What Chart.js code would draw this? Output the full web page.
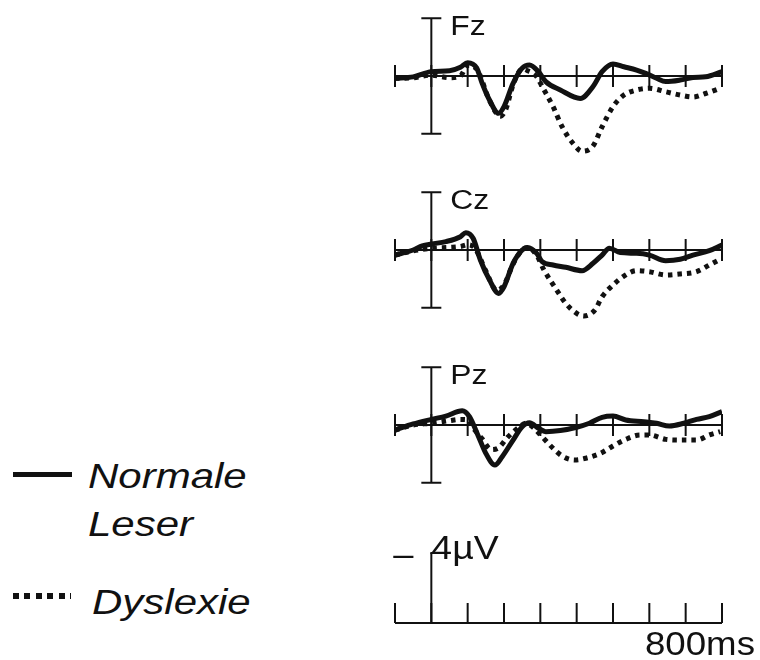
<!DOCTYPE html>
<html lang="de">
<head>
  <meta charset="UTF-8">
  <title>EKP Fz Cz Pz</title>
  <script src="https://cdn.jsdelivr.net/npm/chart.js"></script>
  <style>
    html, body { margin: 0; padding: 0; background: #fff; }
    .pantalla { position: relative; width: 760px; height: 660px; overflow: hidden; }
    canvas.erp { position: absolute; left: 385px; }
    .leg { position: absolute; font: italic 35px "Liberation Sans", Arial, sans-serif; color: #111;
           line-height: 1; transform-origin: 0 0; transform: scaleX(1.2); white-space: nowrap; }
    .legLine { position: absolute; left: 13px; top: 472px; width: 59px; height: 5px; background: #111; }
    .legDots { position: absolute; left: 13px; top: 593px; width: 58px; height: 6px;
               background: repeating-linear-gradient(90deg, #111 0 6px, transparent 6px 11.5px); }
  </style>
</head>
<body>
  <div class="pantalla">
    <canvas id="fz" class="erp" width="375" height="175" style="top:6px"></canvas>
    <canvas id="cz" class="erp" width="375" height="175" style="top:180px"></canvas>
    <canvas id="pz" class="erp" width="375" height="175" style="top:355px"></canvas>
    <canvas id="skala" class="erp" width="375" height="140" style="top:518px"></canvas>

    <div class="legLine"></div>
    <div class="leg" style="left:88px; top:458px">Normale</div>
    <div class="leg" style="left:88px; top:506px">Leser</div>
    <div class="legDots"></div>
    <div class="leg" style="left:92px; top:584px">Dyslexie</div>
  </div>
  <script>
    // Zeitachse (ms) und Skala
    const tickTimes = [-100, 0, 100, 200, 300, 400, 500, 600, 700, 800];
    const axisUV = 3.3;      // Länge der Elektrodenachse (µV)
    const scaleBarUV = 4;    // Kalibrierung 4µV

    // Fz
    const fzNormT = [-100,-50,0,50,80,100,125,140,160,185,200,225,250,270,295,315,355,410,445,470,500,530,565,590,620,645,685,720,755,800];
    const fzNormV = [0.13,0.05,-0.25,-0.3,-0.5,-0.76,-0.45,0.42,1.37,2.13,1.75,0.42,-0.45,-0.63,-0.25,0.32,0.8,1.28,0.6,-0.25,-0.69,-0.53,-0.34,-0.15,0.13,0.32,0.23,0.08,0.04,-0.25];
    const fzDysT = [-100,-50,0,50,80,100,125,160,190,205,225,250,265,290,305,335,360,390,415,445,470,500,530,565,600,645,685,720,755,795];
    const fzDysV = [0.13,0.1,-0.05,0.1,0.0,-0.6,-0.4,1.4,2.3,1.9,0.5,-0.4,-0.3,0.04,0.6,1.75,2.9,3.85,4.3,4.0,2.9,1.75,1.09,0.8,0.7,0.9,1.09,1.2,1.0,0.7];

    // Cz
    const czNormT = [-100,-50,-25,0,40,80,95,115,135,160,185,200,225,250,265,290,305,335,370,415,445,470,490,520,565,600,645,685,720,765,800];
    const czNormV = [0.29,0,-0.23,-0.34,-0.48,-0.76,-0.99,-0.67,0.57,1.71,2.48,2.1,0.76,0,-0.15,0.19,0.67,0.86,0.99,1.18,0.76,0.29,-0.1,0.15,0.19,0.29,0.61,0.53,0.29,0.04,-0.29];
    const czDysT = [-100,-50,0,50,80,100,120,150,180,200,225,250,265,290,310,345,370,400,420,450,470,500,530,565,600,645,685,730,765,795];
    const czDysV = [0.29,0.05,-0.1,-0.15,-0.2,-0.3,-0.1,1.2,2.3,2.0,0.8,0.0,-0.15,0.3,1.14,2.29,3.05,3.62,3.77,3.43,2.67,2.0,1.49,1.18,1.24,1.43,1.37,1.24,0.86,0.53];

    // Pz
    const pzNormT = [-100,-50,0,40,85,105,130,150,175,195,225,250,270,295,315,355,400,435,470,500,535,585,620,655,695,730,765,800];
    const pzNormV = [0.29,-0.06,-0.32,-0.51,-0.82,-0.48,0.67,1.62,2.29,1.81,0.86,0.1,-0.13,0.19,0.38,0.32,0.13,-0.1,-0.44,-0.51,-0.29,-0.19,-0.1,0.06,-0.1,-0.32,-0.48,-0.76];
    const pzDysT = [-100,-50,0,50,80,100,120,140,165,185,210,240,260,280,305,335,360,395,425,465,500,535,575,600,645,685,730,765,795];
    const pzDysV = [0.29,0.0,-0.1,-0.25,-0.32,-0.3,0.3,0.8,1.4,1.3,0.7,0.15,-0.1,0.13,0.67,1.33,1.77,2.0,1.9,1.62,1.2,0.82,0.57,0.57,0.82,0.86,0.86,0.57,0.38];

    const ink = "#111";
    const font = '"Liberation Sans", Arial, sans-serif';

    function punkte(ts, vs) {
      return ts.map((t, i) => ({ x: t, y: vs[i] }));
    }

    function linie(ctx, x1, y1, x2, y2) {
      ctx.beginPath();
      ctx.moveTo(x1, y1);
      ctx.lineTo(x2, y2);
      ctx.stroke();
    }

    function text(ctx, s, x, y, size, sx, align) {
      ctx.save();
      ctx.font = size + "px " + font;
      ctx.fillStyle = ink;
      ctx.textBaseline = "alphabetic";
      ctx.translate(x, y);
      ctx.scale(sx, 1);
      ctx.textAlign = align || "left";
      ctx.fillText(s, 0, 0);
      ctx.restore();
    }

    // Achsenkreuz pro Elektrode bzw. Kalibrierung
    const achsen = {
      id: "achsen",
      beforeDatasetsDraw(chart, args, opts) {
        const ctx = chart.ctx, xs = chart.scales.x, ys = chart.scales.y;
        const y0 = ys.getPixelForValue(0);
        const x0 = xs.getPixelForValue(0);
        const xa = xs.getPixelForValue(tickTimes[0]);
        const xe = xs.getPixelForValue(tickTimes[tickTimes.length - 1]);
        ctx.save();
        ctx.strokeStyle = ink;
        ctx.lineWidth = 2;
        linie(ctx, xa, y0, xe, y0);
        if (opts.skala) {
          tickTimes.forEach(t => {
            const x = xs.getPixelForValue(t);
            linie(ctx, x, y0 - 20, x, y0);
          });
          const yt = ys.getPixelForValue(-scaleBarUV);
          linie(ctx, x0, y0, x0, yt);
          linie(ctx, x0 - 1, yt, x0 + 10, yt);
          text(ctx, "–", x0 - 18, yt + 12, 33, 1.1, "right");
          text(ctx, scaleBarUV + "µV", x0, yt + 6, 34, 1.1);
          text(ctx, tickTimes[tickTimes.length - 1] + "ms", xe - 77, y0 + 32, 33, 1.11);
        } else {
          tickTimes.forEach(t => {
            const x = xs.getPixelForValue(t);
            linie(ctx, x, y0 - 11, x, y0 + 11);
          });
          const yt = ys.getPixelForValue(-axisUV);
          const yb = ys.getPixelForValue(axisUV);
          linie(ctx, x0, yt, x0, yb);
          linie(ctx, x0 - 10, yt, x0 + 10, yt);
          linie(ctx, x0 - 10, yb, x0 + 10, yb);
          text(ctx, opts.label, x0 + 19, yt + 17, 27, 1.18);
        }
        ctx.restore();
      }
    };

    function optionen(yMin, yMax, plug) {
      return {
        responsive: false,
        animation: false,
        devicePixelRatio: 1,
        layout: { padding: { left: 10, right: 38, top: 0, bottom: 0 } },
        scales: {
          x: { type: "linear", min: tickTimes[0], max: tickTimes[tickTimes.length - 1], display: false },
          y: { min: yMin, max: yMax, reverse: true, display: false }
        },
        plugins: { legend: { display: false }, tooltip: { enabled: false }, achsen: plug }
      };
    }

    function kanal(id, label, normT, normV, dysT, dysV) {
      new Chart(document.getElementById(id), {
        type: "line",
        data: {
          datasets: [
            { label: "Normale Leser", data: punkte(normT, normV), borderColor: ink, borderWidth: 5,
              pointRadius: 0, cubicInterpolationMode: "monotone", fill: false },
            { label: "Dyslexie", data: punkte(dysT, dysV), borderColor: ink, borderWidth: 5,
              borderDash: [4.5, 5], borderCapStyle: "butt", pointRadius: 0, cubicInterpolationMode: "monotone", fill: false }
          ]
        },
        options: optionen(-4, 6, { label: label }),
        plugins: [achsen]
      });
    }

    kanal("fz", "Fz", fzNormT, fzNormV, fzDysT, fzDysV);
    kanal("cz", "Cz", czNormT, czNormV, czDysT, czDysV);
    kanal("pz", "Pz", pzNormT, pzNormV, pzDysT, pzDysV);

    new Chart(document.getElementById("skala"), {
      type: "line",
      data: { datasets: [] },
      options: optionen(-6, 2, { skala: true }),
      plugins: [achsen]
    });
  </script>
</body>
</html>
